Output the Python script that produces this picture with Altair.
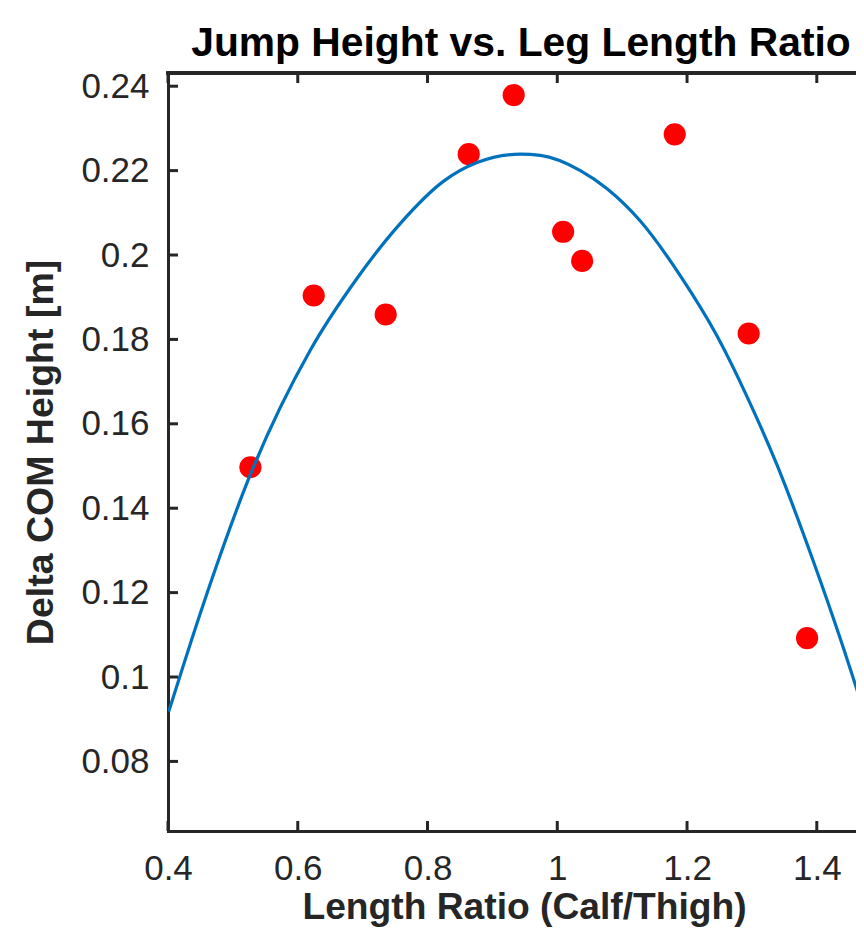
import altair as alt
import pandas as pd

# Measured data points (red markers)
ratio = [0.527, 0.6246, 0.7355, 0.8635, 0.9328, 1.009, 1.0383, 1.181, 1.295, 1.385]
height = [0.1497, 0.1904, 0.1859, 0.2239, 0.2379, 0.2055, 0.1986, 0.2286, 0.1814, 0.1092]

# Fitted curve
fit_x = [0.4011, 0.4550, 0.5270, 0.6195, 0.6915, 0.7582, 0.8249, 0.8764, 0.9432, 0.9740,
         1.0356, 1.0768, 1.1283, 1.1900, 1.2463, 1.2926, 1.3388, 1.3952, 1.4364, 1.4723]
fit_y = [0.0918, 0.1175, 0.1480, 0.1775, 0.1945, 0.2075, 0.2175, 0.2219, 0.2239, 0.2236,
         0.2200, 0.2157, 0.2080, 0.1950, 0.1808, 0.1664, 0.1502, 0.1272, 0.1090, 0.0920]

x_ticks = [0.4, 0.6, 0.8, 1.0, 1.2, 1.4]
y_ticks = [0.08, 0.10, 0.12, 0.14, 0.16, 0.18, 0.20, 0.22, 0.24]

W, H = 688, 758
X_DOMAIN = [0.4, 0.4 + W / 648.8]
Y_DOMAIN = [0.06351, 0.24313]
AX = "#262626"
FONT = "Liberation Sans"

pts = pd.DataFrame({"x": ratio, "y": height})
fit = pd.DataFrame({"x": fit_x, "y": fit_y})
xt = pd.DataFrame({"x": x_ticks})
yt = pd.DataFrame({"y": y_ticks})

xs = alt.Scale(domain=X_DOMAIN, nice=False, zero=False)
ys = alt.Scale(domain=Y_DOMAIN, nice=False, zero=False)

x_axis = alt.Axis(values=x_ticks, format="~g", grid=False, ticks=False,
                  labelFont=FONT, labelFontSize=35, labelColor=AX, labelPadding=20,
                  labelFlush=False, labelOverlap=False, labelBound=False,
                  domainColor=AX, domainWidth=3, domainCap="square",
                  title="Length Ratio (Calf/Thigh)", titleFont=FONT, titleFontSize=37.2,
                  titleFontWeight="bold", titleColor=AX, titlePadding=3, titleX=356)
y_axis = alt.Axis(values=y_ticks, format="~g", grid=False, ticks=False,
                  labelFont=FONT, labelFontSize=35, labelColor=AX, labelPadding=19,
                  labelFlush=False, labelOverlap=False,
                  domainColor=AX, domainWidth=3, domainCap="square",
                  title="Delta COM Height [m]", titleFont=FONT, titleFontSize=37.5,
                  titleFontWeight="bold", titleColor=AX, titlePadding=20)

X = alt.X("x:Q", scale=xs, axis=x_axis, title="Length Ratio (Calf/Thigh)")
Y = alt.Y("y:Q", scale=ys, axis=y_axis, title="Delta COM Height [m]")

points = alt.Chart(pts).mark_point(filled=True, color="#FF0000", opacity=1, size=490).encode(
    x=X, y=Y,
)

line = alt.Chart(fit).mark_line(color="#0072BD", strokeWidth=3.2, interpolate="monotone", clip=True).encode(
    x=X, y=Y,
)

ytick_marks = alt.Chart(yt).mark_rule(color=AX, strokeWidth=3).encode(
    y=Y, x=alt.value(0), x2=alt.value(10),
)
xtick_bottom = alt.Chart(xt).mark_rule(color=AX, strokeWidth=3).encode(
    x=X, y=alt.value(H), y2=alt.value(H - 10),
)
xtick_top = alt.Chart(xt).mark_rule(color=AX, strokeWidth=3).encode(
    x=X, y=alt.value(0), y2=alt.value(10),
)
top_border = alt.Chart(xt).mark_rule(color=AX, strokeWidth=3, strokeCap="square").encode(
    x=alt.value(0), x2=alt.value(W), y=alt.value(0),
)

chart = alt.layer(points, line, ytick_marks, xtick_bottom, xtick_top, top_border).properties(
    width=W, height=H,
    padding={"left": 160, "top": 65, "right": 0, "bottom": 100},
    autosize=alt.AutoSizeParams(type="none"),
    title=alt.TitleParams("Jump Height vs. Leg Length Ratio", font=FONT, fontSize=40.8,
                          fontWeight="bold", color="black", offset=4, dx=9, anchor="middle"),
).configure_view(stroke=None).configure(background="white")

chart.save("out.html", embed_options={"renderer": "svg", "actions": False})
